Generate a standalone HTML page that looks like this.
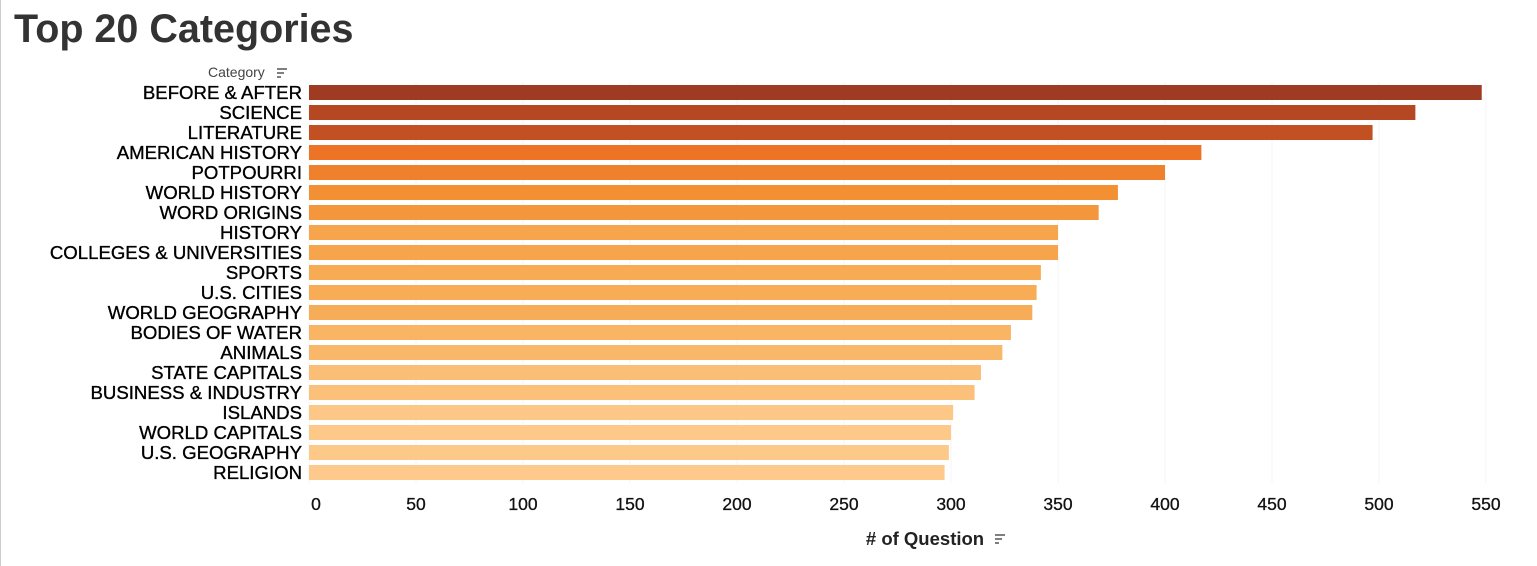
<!DOCTYPE html>
<html><head><meta charset="utf-8"><style>
body{margin:0;background:#fff;width:1537px;height:566px;overflow:hidden;font-family:"Liberation Sans","DejaVu Sans",sans-serif}
#title{position:absolute;left:14px;top:7px;font-size:39.5px;font-weight:bold;color:#333}
#frame{position:absolute;left:0;top:0;width:1px;height:566px;background:#ccc}
</style></head><body>
<div id="frame"></div>
<div id="title">Top 20 Categories</div>
<svg id="chart" width="1537" height="566" style="position:absolute;left:0;top:0"></svg>
<script>
const categories=["BEFORE & AFTER","SCIENCE","LITERATURE","AMERICAN HISTORY","POTPOURRI","WORLD HISTORY","WORD ORIGINS","HISTORY","COLLEGES & UNIVERSITIES","SPORTS","U.S. CITIES","WORLD GEOGRAPHY","BODIES OF WATER","ANIMALS","STATE CAPITALS","BUSINESS & INDUSTRY","ISLANDS","WORLD CAPITALS","U.S. GEOGRAPHY","RELIGION"];
const values=[548,517,497,417,400,378,369,350,350,342,340,338,328,324,314,311,301,300,299,297];
const ticks=[0,50,100,150,200,250,300,350,400,450,500,550];
const svg=document.getElementById('chart');
const NS='http://www.w3.org/2000/svg';
const x0=309,pxPer=2.14,y0=85,step=20,bh=15;
const xs=v=>x0+v*pxPer;
const ys=i=>y0+i*step;
const stops=[[297,[253,202,140]],[340,[247,172,85]],[380,[243,143,50]],[420,[237,114,38]],[500,[193,79,35]],[548,[159,59,34]]];
function color(v){
  for(let k=1;k<stops.length;k++){if(v<=stops[k][0]||k==stops.length-1){const a=stops[k-1],b=stops[k];let t=(v-a[0])/(b[0]-a[0]);t=Math.max(0,Math.min(1,t));return 'rgb('+a[1].map((c,j)=>Math.round(c+(b[1][j]-c)*t)).join(',')+')';}}
}
function mk(tag,attrs,txt){const e=document.createElementNS(NS,tag);for(const k in attrs)e.setAttribute(k,attrs[k]);if(txt!==undefined)e.textContent=txt;svg.appendChild(e);return e;}
ticks.forEach(t=>{
  const g=mk('line',{x1:xs(t),x2:xs(t),y1:82,y2:483,stroke:'#f6f6f6','stroke-width':1});
  
  
  const l=mk('text',{x:xs(t)+(t==0?7:0),y:510,'font-size':17.5,'text-anchor':'middle',fill:'#111','stroke':'#111','stroke-width':0.3},t);
  
  
});
categories.forEach((c,i)=>{
  const r=mk('rect',{x:x0,y:ys(i),width:values[i]*pxPer,height:bh,fill:color(values[i])});
  
  
  const t=mk('text',{x:302,y:ys(i)+14,'font-size':18.6,'text-anchor':'end',fill:'#000','stroke':'#000','stroke-width':0.35},c);
  
  
});
const ch=mk('text',{x:208,y:77,'font-size':14,fill:'#444'},'Category');


const si=mk('path',{d:'M277 69h10M277 73h7M277 77h4',stroke:'#555','stroke-width':1.5});


const xt=mk('text',{x:925,y:545,'font-size':18.5,'font-weight':'bold','text-anchor':'middle',fill:'#222'},'# of Question');


const si2=mk('path',{d:'M995 535h10M995 539h7M995 543h4',stroke:'#555','stroke-width':1.5});


</script>
</body></html>
